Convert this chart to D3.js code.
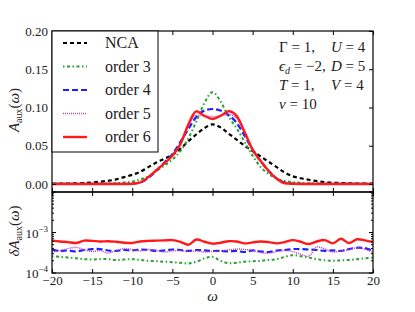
<!DOCTYPE html>
<html lang="en">
<head>
<meta charset="UTF-8">
<script src="https://d3js.org/d3.v7.min.js"></script>
<style>
  body { margin: 0; background: #fff; }
</style>
<title>A aux</title>
</head>
<body>
<script>
    // upper panel: spectral function on a common omega grid
    var omegaA = [-20, -18, -16, -14, -12, -11, -10, -9, -8, -7, -6, -5, -4, -3, -2, -1, 0,
                  1, 2, 3, 4, 5, 6, 7, 8, 9, 10, 11, 12, 14, 16, 18, 20];
    var nca    = [0.0003, 0.0006, 0.0012, 0.003, 0.006, 0.009, 0.012, 0.016, 0.022, 0.028, 0.033, 0.038, 0.046, 0.056, 0.065, 0.073, 0.078,
                  0.074, 0.066, 0.058, 0.050, 0.043, 0.036, 0.029, 0.022, 0.015, 0.010, 0.0075, 0.0055, 0.0025, 0.0012, 0.0006, 0.0004];
    var order3 = [0.0002, 0.0002, 0.0003, 0.0004, 0.001, 0.002, 0.003, 0.006, 0.010, 0.017, 0.024, 0.032, 0.043, 0.060, 0.082, 0.106, 0.120,
                  0.108, 0.088, 0.073, 0.055, 0.037, 0.022, 0.013, 0.007, 0.004, 0.0025, 0.0015, 0.001, 0.0005, 0.0003, 0.0002, 0.0002];
    var order4 = [0, 0, 0, 0, 0, 0.0001, 0.0005, 0.002, 0.008, 0.017, 0.028, 0.039, 0.055, 0.072, 0.088, 0.096, 0.098,
                  0.096, 0.090, 0.080, 0.063, 0.045, 0.030, 0.017, 0.007, 0.002, 0.0005, 0.0001, 0, 0, 0, 0, 0];
    var order5 = [0, 0, 0, 0, 0, 0, 0.0004, 0.002, 0.009, 0.018, 0.027, 0.037, 0.053, 0.076, 0.090, 0.089, 0.088,
                  0.089, 0.091, 0.086, 0.067, 0.045, 0.030, 0.017, 0.007, 0.0015, 0.0002, 0, 0, 0, 0, 0, 0];
    var order6 = [0, 0, 0, 0, 0, 0, 0.0003, 0.002, 0.009, 0.018, 0.027, 0.037, 0.052, 0.078, 0.095, 0.089, 0.085,
                  0.089, 0.095, 0.089, 0.068, 0.045, 0.030, 0.017, 0.007, 0.001, 0.0002, 0, 0, 0, 0, 0, 0];

    // lower panel: error estimate (units of 1e-4), omega = -20..20 step 1
    var omegaB = d3.range(-20, 21, 1);
    var err3 = [2.6, 2.5, 2.4, 2.3, 2.2, 2.15, 2.2, 2.2, 2.1, 2.15, 2.2, 2.1, 2.0, 1.95, 1.9, 1.85, 1.78, 1.72, 1.9, 2.3, 2.5,
                2.0, 1.75, 1.8, 1.9, 1.95, 2.0, 2.1, 2.2, 2.5, 2.75, 2.6, 2.4, 2.2, 2.05, 2.0, 2.05, 2.1, 2.2, 2.3, 2.4];
    var err4 = [3.8, 3.5, 3.6, 3.4, 3.7, 3.9, 3.9, 3.6, 3.5, 3.7, 3.6, 3.8, 3.7, 3.5, 3.6, 3.8, 3.7, 3.5, 3.7, 3.6, 3.5,
                3.5, 3.4, 3.5, 3.3, 3.6, 3.4, 3.3, 3.6, 3.7, 3.9, 3.9, 3.8, 3.7, 3.5, 3.6, 3.5, 3.9, 4.2, 4.1, 3.5];
    var err5 = [3.3, 3.6, 4.0, 4.3, 3.8, 3.4, 3.6, 3.1, 3.6, 4.0, 3.8, 3.5, 3.8, 3.6, 3.3, 3.5, 3.6, 3.4, 3.5, 3.3, 3.4,
                3.5, 3.7, 3.9, 3.8, 3.6, 3.2, 3.1, 3.4, 3.6, 3.4, 2.9, 2.6, 4.4, 3.9, 3.3, 3.5, 3.8, 4.2, 3.9, 3.2];
    var err6 = [6.3, 6.0, 5.8, 5.5, 6.3, 6.2, 6.0, 6.1, 5.9, 5.6, 5.5, 6.0, 6.2, 6.3, 6.4, 6.5, 5.9, 5.0, 6.7, 5.9, 5.3,
                5.6, 6.1, 6.0, 5.4, 5.7, 6.0, 5.8, 5.4, 5.8, 6.5, 5.9, 5.2, 6.0, 6.5, 5.4, 7.0, 5.5, 6.8, 6.4, 5.8];
    var errScale = 1e-4;

    var xTicks = [-20, -15, -10, -5, 0, 5, 10, 15, 20];
    var yTicksUpper = [0.00, 0.05, 0.10, 0.15, 0.20];
    var legendNames = ["NCA", "order 3", "order 4", "order 5", "order 6"];

    var w = 415, h = 312;
    var pLeft = 52, pRight = 373, pTop = 31, pMid = 192, pBottom = 273;
    var serif = "Liberation Serif";

    var x = d3.scaleLinear().domain([-20, 20]).range([pLeft, pRight]);
    var yU = d3.scaleLinear().domain([-0.0105, 0.2]).range([pMid, pTop]);
    var yL = d3.scaleLog().domain([1e-4, 1e-2]).range([pBottom, pMid]);

    var styles = [
        {color: "#000000", width: 2.2, dash: "4,3"},
        {color: "#2ca02c", width: 2, dash: "1.5,2.5,3,2.5"},
        {color: "#1f1fff", width: 2.2, dash: "6,3"},
        {color: "#bf40bf", width: 1.5, dash: "1,1"},
        {color: "#ff1a1a", width: 2.4, dash: null}
    ];

    var svg = d3.select("body").append("svg")
        .attr("width", w).attr("height", h)
        .attr("font-family", serif);

    var defs = svg.append("defs");
    defs.append("clipPath").attr("id", "clipU").append("rect")
        .attr("x", pLeft).attr("y", pTop).attr("width", pRight - pLeft).attr("height", pMid - pTop);
    defs.append("clipPath").attr("id", "clipL").append("rect")
        .attr("x", pLeft).attr("y", pMid).attr("width", pRight - pLeft).attr("height", pBottom - pMid);

    // upper curves
    var upperSeries = [nca, order3, order4, order5, order6];
    var lineU = d3.line()
        .x(function(d) { return x(d[0]); })
        .y(function(d) { return yU(d[1]); })
        .curve(d3.curveMonotoneX);

    var gU = svg.append("g").attr("clip-path", "url(#clipU)");
    upperSeries.forEach(function(s, i) {
        gU.append("path")
            .datum(omegaA.map(function(o, j) { return [o, s[j]]; }))
            .attr("fill", "none")
            .attr("stroke", styles[i].color)
            .attr("stroke-width", styles[i].width)
            .attr("stroke-dasharray", styles[i].dash)
            .attr("d", lineU);
    });

    // lower curves (order 3..6)
    var lowerSeries = [err3, err4, err5, err6];
    var lineL = d3.line()
        .x(function(d) { return x(d[0]); })
        .y(function(d) { return yL(d[1]); })
        .curve(d3.curveCatmullRom);

    var gL = svg.append("g").attr("clip-path", "url(#clipL)");
    lowerSeries.forEach(function(s, i) {
        var st = styles[i + 1];
        gL.append("path")
            .datum(omegaB.map(function(o, j) { return [o, s[j] * errScale]; }))
            .attr("fill", "none")
            .attr("stroke", st.color)
            .attr("stroke-width", st.width)
            .attr("stroke-dasharray", st.dash)
            .attr("d", lineL);
    });

    // axes (ticks inside)
    function strip(g) {
        g.select(".domain").remove();
        g.selectAll("line").attr("stroke", "#000");
        g.attr("font-family", serif).attr("font-size", 13);
        g.selectAll("text").attr("fill", "#222");
    }

    svg.append("g").attr("transform", "translate(0," + pTop + ")")
        .call(d3.axisTop(x).tickValues(xTicks).tickSize(-4).tickFormat(""))
        .call(strip);
    svg.append("g").attr("transform", "translate(0," + pMid + ")")
        .call(d3.axisBottom(x).tickValues(xTicks).tickSize(-4).tickFormat(""))
        .call(strip);
    svg.append("g").attr("transform", "translate(0," + pMid + ")")
        .call(d3.axisTop(x).tickValues(xTicks).tickSize(-4).tickFormat(""))
        .call(strip);
    svg.append("g").attr("transform", "translate(0," + pBottom + ")")
        .call(d3.axisBottom(x).tickValues(xTicks).tickSize(-4).tickPadding(3)
              .tickFormat(function(d) { return d < 0 ? "\u2212" + Math.abs(d) : d; }))
        .call(strip);

    svg.append("g").attr("transform", "translate(" + pLeft + ",0)")
        .call(d3.axisLeft(yU).tickValues(yTicksUpper).tickSize(-4).tickPadding(4)
              .tickFormat(d3.format(".2f")))
        .call(strip);
    svg.append("g").attr("transform", "translate(" + pRight + ",0)")
        .call(d3.axisRight(yU).tickValues(yTicksUpper).tickSize(-4).tickFormat(""))
        .call(strip);

    // log axis, major + minor
    var majors = [1e-4, 1e-3, 1e-2];
    var minors = [];
    [1e-4, 1e-3].forEach(function(b) { for (var k = 2; k < 10; k++) minors.push(b * k); });
    [pLeft, pRight].forEach(function(xx) {
        var dir = xx === pLeft ? 1 : -1;
        svg.append("g").selectAll("line").data(majors).enter().append("line")
            .attr("x1", xx).attr("x2", xx + dir * 4)
            .attr("y1", function(d) { return yL(d); }).attr("y2", function(d) { return yL(d); })
            .attr("stroke", "#000");
        svg.append("g").selectAll("line").data(minors).enter().append("line")
            .attr("x1", xx).attr("x2", xx + dir * 2)
            .attr("y1", function(d) { return yL(d); }).attr("y2", function(d) { return yL(d); })
            .attr("stroke", "#000");
    });
    var logLabels = svg.append("g").selectAll("text").data([1e-4, 1e-3]).enter().append("text")
        .attr("x", pLeft - 4).attr("y", function(d) { return yL(d) + 5; })
        .attr("text-anchor", "end").attr("font-size", 13).attr("fill", "#222");
    logLabels.append("tspan").text("10");
    logLabels.append("tspan").attr("dy", -6).attr("font-size", 9)
        .text(function(d) { return "\u2212" + Math.round(-Math.log10(d)); });

    // frames
    svg.append("rect").attr("x", pLeft).attr("y", pTop).attr("width", pRight - pLeft).attr("height", pMid - pTop)
        .attr("fill", "none").attr("stroke", "#000").attr("stroke-width", 1.2);
    svg.append("rect").attr("x", pLeft).attr("y", pMid).attr("width", pRight - pLeft).attr("height", pBottom - pMid)
        .attr("fill", "none").attr("stroke", "#000").attr("stroke-width", 1.2);

    // legend
    var leg = svg.append("g");
    leg.append("rect").attr("x", pLeft).attr("y", pTop).attr("width", 106).attr("height", 121)
        .attr("fill", "#fff").attr("stroke", "#000").attr("stroke-width", 1);
    legendNames.forEach(function(name, i) {
        var yy = 43 + i * 23.5;
        leg.append("line").attr("x1", 63).attr("x2", 87).attr("y1", yy).attr("y2", yy)
            .attr("stroke", styles[i].color).attr("stroke-width", styles[i].width)
            .attr("stroke-dasharray", styles[i].dash);
        leg.append("text").attr("x", 105).attr("y", yy + 5).attr("font-size", 16)
            .attr("fill", "#222").text(name);
    });

    // parameters text
    var params = [
        [["Γ", false], [" = 1,", false], ["U", true], [" = 4", false]],
        [["ϵ", true, "d"], [" = −2,", false], ["D", true], [" = 5", false]],
        [["T", true], [" = 1,", false], ["V", true], [" = 4", false]],
        [["ν", true], [" = 10", false]]
    ];
    var pBase = [52, 71, 90, 109];
    params.forEach(function(row, i) {
        var t1 = svg.append("text").attr("x", 279).attr("y", pBase[i]).attr("font-size", 15).attr("fill", "#222");
        t1.append("tspan").attr("font-style", row[0][1] ? "italic" : "normal").text(row[0][0]);
        if (row[0][2]) {
            t1.append("tspan").attr("font-style", "italic").attr("font-size", 10).attr("dy", 3).text(row[0][2]);
            t1.append("tspan").attr("dy", -3).text(row[1][0]);
        } else {
            t1.append("tspan").text(row[1][0]);
        }
        if (row.length > 2) {
            var t2 = svg.append("text").attr("x", 331).attr("y", pBase[i]).attr("font-size", 15).attr("fill", "#222");
            t2.append("tspan").attr("font-style", "italic").text(row[2][0]);
            t2.append("tspan").text(row[3][0]);
        }
    });

    // axis titles
    svg.append("text").attr("x", x(0)).attr("y", 301).attr("text-anchor", "middle")
        .attr("font-size", 15).attr("font-style", "italic").attr("fill", "#222").text("ω");

    var yt1 = svg.append("text").attr("transform", "translate(19,110) rotate(-90)")
        .attr("text-anchor", "middle").attr("font-size", 15).attr("fill", "#222");
    yt1.append("tspan").attr("font-style", "italic").text("A");
    yt1.append("tspan").attr("font-size", 10).attr("dy", 3).text("aux");
    yt1.append("tspan").attr("dy", -3).text("(");
    yt1.append("tspan").attr("font-style", "italic").text("ω");
    yt1.append("tspan").text(")");

    var yt2 = svg.append("text").attr("transform", "translate(19,231) rotate(-90)")
        .attr("text-anchor", "middle").attr("font-size", 15).attr("fill", "#222");
    yt2.append("tspan").attr("font-style", "italic").text("δA");
    yt2.append("tspan").attr("font-size", 10).attr("dy", 3).text("aux");
    yt2.append("tspan").attr("dy", -3).text("(");
    yt2.append("tspan").attr("font-style", "italic").text("ω");
    yt2.append("tspan").text(")");
</script>
</body>
</html>
